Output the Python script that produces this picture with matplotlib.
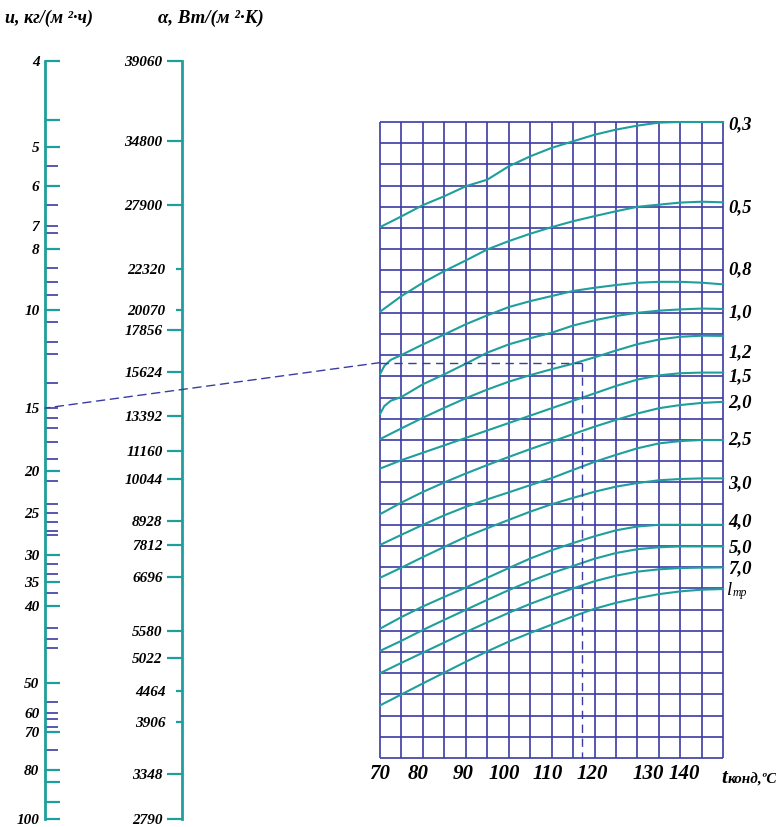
import numpy as np
import matplotlib
matplotlib.use("Agg")
import matplotlib.pyplot as plt
from matplotlib.patches import ConnectionPatch
from matplotlib.ticker import FixedLocator, FuncFormatter
from matplotlib import transforms

plt.rcParams['font.family'] = ['Liberation Serif', 'DejaVu Serif']

# шкала u, кг/(м2·ч) - неравномерная, позиция метки = доля длины шкалы сверху
u_labeled = [4, 5, 6, 7, 8, 10, 15, 20, 25, 30, 35, 40, 50, 60, 70, 80, 100]
u_labeled_pos = [0, .1132, .1645, .2171, .2474, .3289, .4579, .5408, .5961,
                 .6513, .6868, .7184, .8211, .8605, .8855, .9355, 1.0]
u_teal = [4, 4.66, 5, 6, 8, 10, 20, 30, 35, 40, 50, 70, 80, 84.5, 92.5, 100]
u_navy = [5.47, 6.46, 7, 7.29, 8.57, 9.04, 9.47, 10.5, 11.4, 12.0, 13.5, 15,
          15.7, 16.4, 17.5, 18.9, 21.1, 23.8, 25, 26.0, 27.1, 27.5, 31.6, 33.6,
          37.2, 42.7, 44.0, 45.2, 56.1, 60, 63.0, 67.2, 74.6]

# шкала alpha, Вт/(м2·К) - позиция = доля длины шкалы снизу
a_vals = [2790, 3348, 3906, 4464, 5022, 5580, 6696, 7812, 8928, 10044, 11160,
          13392, 15624, 17856, 20070, 22320, 27900, 34800, 39060]
a_pos = [0, .0592, .1276, .1684, .2118, .2474, .3197, .3618, .3934, .4487,
         .4855, .5316, .5895, .6447, .6711, .725, .8105, .8947, 1.0]
a_short = [3906, 4464, 20070, 22320]

# сетка: t конденсации (шаг 5) и 30 клеток по вертикали
t_grid = list(range(70, 151, 5))
row_grid = list(range(0, 31))
t_pts = list(range(70, 151, 5))
t_kink = [70, 71, 72.5] + list(range(75, 151, 5))

c03 = [25.04, 25.55, 26.08, 26.5, 26.97, 27.28, 27.91, 28.38, 28.78, 29.09,
       29.4, 29.64, 29.83, 29.97, 30.0, 30.0, 30.0]
c05 = [21.05, 21.79, 22.42, 22.97, 23.47, 23.99, 24.38, 24.73, 25.04, 25.32,
       25.56, 25.79, 26.0, 26.1, 26.2, 26.24, 26.21]
c08 = [18.1, 18.49, 18.78, 19.01, 19.51, 19.98, 20.46, 20.88, 21.27, 21.55,
       21.79, 22.03, 22.18, 22.31, 22.42, 22.46, 22.46, 22.42, 22.34]
c10 = [16.22, 16.6, 16.85, 17.03, 17.63, 18.1, 18.6, 19.12, 19.51, 19.8,
       20.06, 20.4, 20.65, 20.85, 21.0, 21.1, 21.16, 21.2, 21.18]
c12 = [15.04, 15.55, 16.05, 16.52, 16.97, 17.38, 17.75, 18.06, 18.34, 18.6,
       18.9, 19.22, 19.52, 19.74, 19.87, 19.92, 19.91]
c15 = [13.65, 14.05, 14.4, 14.75, 15.1, 15.45, 15.8, 16.15, 16.5, 16.85,
       17.2, 17.55, 17.85, 18.05, 18.15, 18.18, 18.18]
c20 = [11.5, 12.05, 12.55, 13.0, 13.42, 13.82, 14.2, 14.57, 14.92, 15.28,
       15.63, 15.95, 16.25, 16.5, 16.65, 16.75, 16.8]
c25 = [10.05, 10.53, 11.0, 11.45, 11.85, 12.2, 12.53, 12.87, 13.2, 13.59,
       13.97, 14.3, 14.61, 14.84, 14.95, 15.0, 15.0]
c30 = [8.5, 8.98, 9.48, 9.96, 10.43, 10.84, 11.23, 11.62, 11.97, 12.27,
       12.56, 12.8, 12.97, 13.1, 13.16, 13.19, 13.19]
c40 = [6.1, 6.65, 7.15, 7.6, 8.04, 8.5, 8.96, 9.41, 9.8, 10.14, 10.46,
       10.74, 10.92, 11.0, 11.0, 11.0, 11.0]
c50 = [5.05, 5.53, 6.04, 6.52, 6.99, 7.46, 7.92, 8.34, 8.72, 9.06, 9.4,
       9.67, 9.85, 9.94, 9.98, 9.98, 9.98]
c70 = [4.0, 4.49, 4.97, 5.45, 5.94, 6.4, 6.85, 7.27, 7.65, 8.0, 8.34, 8.6,
       8.79, 8.9, 8.96, 8.98, 8.99]
c_tr = [2.48, 3.0, 3.52, 4.03, 4.54, 5.03, 5.49, 5.9, 6.29, 6.68, 7.04,
        7.32, 7.54, 7.73, 7.86, 7.94, 7.97]

curve_labels = ['0,3', '0,5', '0,8', '1,0', '1,2', '1,5', '2,0', '2,5',
                '3,0', '4,0', '5,0', '7,0']
curve_label_rows = [29.86, 25.94, 23.02, 20.99, 19.1, 17.97, 16.75, 15.0,
                    12.92, 11.13, 9.91, 8.92]
tr_label_row = 7.92

x_labels = ['70', '80', '90', '100', '110', '120', '130', '140']
x_label_pos = [70, 79, 89.5, 99, 109, 119.5, 132.5, 141]

# пример: u = 15 -> t = 117
u_read = 15
t_read = 117.1
row_read = 18.65

teal = '#1f9e9e'
navy = '#3b3ba3'
bi = dict(family='Liberation Serif', weight='bold', style='italic')

W, H = 776, 827
fig = plt.figure(figsize=(W / 100, H / 100), dpi=100)


def box(x0, y_top, x1, y_bot):
    return [x0 / W, 1 - y_bot / H, (x1 - x0) / W, (y_bot - y_top) / H]


# ---- шкала u
ax_u = fig.add_axes(box(45, 61, 75, 819))
u_log = np.log10(u_labeled)


def u_fwd(v):
    return np.interp(np.log10(np.clip(v, 1e-9, None)), u_log, u_labeled_pos)


def u_inv(p):
    return 10 ** np.interp(p, u_labeled_pos, u_log)


ax_u.set_yscale('function', functions=(u_fwd, u_inv))
ax_u.set_ylim(100, 4)
ax_u.set_xlim(0, 1)
ax_u.patch.set_alpha(0)
for s in ['top', 'right', 'bottom']:
    ax_u.spines[s].set_visible(False)
ax_u.spines['left'].set_color(teal)
ax_u.spines['left'].set_linewidth(2)
ax_u.set_xticks([])


def u_fmt(v, pos):
    for L in u_labeled:
        if abs(v - L) < 1e-6:
            return str(L)
    return ''


ax_u.yaxis.set_major_locator(FixedLocator(u_teal))
ax_u.yaxis.set_minor_locator(FixedLocator(u_navy))
ax_u.yaxis.set_major_formatter(FuncFormatter(u_fmt))
ax_u.yaxis.set_minor_formatter(FuncFormatter(u_fmt))
ax_u.tick_params(axis='y', which='major', direction='in', length=11,
                 width=1.6, color=teal, pad=4, labelsize=11)
ax_u.tick_params(axis='y', which='minor', direction='in', length=9.5,
                 width=1.2, color=navy, pad=4, labelsize=11)
for lab in ax_u.get_yticklabels(which='both'):
    lab.set(**bi)

# ---- шкала alpha
ax_a = fig.add_axes(box(182, 61, 212, 819))
a_log = np.log10(a_vals)


def a_fwd(v):
    return np.interp(np.log10(np.clip(v, 1e-9, None)), a_log, a_pos)


def a_inv(p):
    return 10 ** np.interp(p, a_pos, a_log)


ax_a.set_yscale('function', functions=(a_fwd, a_inv))
ax_a.set_ylim(2790, 39060)
ax_a.set_xlim(0, 1)
ax_a.patch.set_alpha(0)
for s in ['top', 'right', 'bottom']:
    ax_a.spines[s].set_visible(False)
ax_a.spines['left'].set_color(teal)
ax_a.spines['left'].set_linewidth(2)
ax_a.set_xticks([])
ax_a.yaxis.set_major_locator(FixedLocator([v for v in a_vals if v not in a_short]))
ax_a.yaxis.set_minor_locator(FixedLocator(a_short))
ax_a.yaxis.set_major_formatter(FuncFormatter(lambda v, p: str(int(round(v)))))
ax_a.yaxis.set_minor_formatter(FuncFormatter(lambda v, p: str(int(round(v)))))
ax_a.tick_params(axis='y', which='major', direction='out', length=11,
                 width=1.6, color=teal, pad=3, labelsize=11)
ax_a.tick_params(axis='y', which='minor', direction='out', length=4,
                 width=1.6, color=teal, pad=8, labelsize=11)
for lab in ax_a.get_yticklabels(which='both'):
    lab.set(**bi)

# ---- сетка с кривыми
ax = fig.add_axes(box(380, 122, 723.3, 758))
ax.set_xlim(70, 150)
ax.set_ylim(0, 30)
for s in ax.spines.values():
    s.set_visible(False)
ax.set_yticks([])
ax.vlines(t_grid, 0, 30, color=navy, lw=1.2, clip_on=False)
ax.hlines(row_grid, 70, 150, color=navy, lw=1.2, clip_on=False)

for t, c in [(t_pts, c03), (t_pts, c05), (t_kink, c08), (t_kink, c10),
             (t_pts, c12), (t_pts, c15), (t_pts, c20), (t_pts, c25),
             (t_pts, c30), (t_pts, c40), (t_pts, c50), (t_pts, c70),
             (t_pts, c_tr)]:
    ax.plot(t, c, color=teal, lw=1.5, clip_on=False, solid_capstyle='round',
            solid_joinstyle='round')

for lab, r in zip(curve_labels, curve_label_rows):
    ax.text(151.2, r, lab, fontsize=13.5, ha='left', va='center', **bi)
ax.text(150.8, tr_label_row, 'l', fontsize=13.5, ha='left', va='center',
        family='Liberation Serif', style='italic')
ax.text(150.8, tr_label_row, 'тр',
        transform=transforms.offset_copy(ax.transData, fig=fig, x=6, y=-3, units='dots'),
        fontsize=8.5, ha='left', va='center', family='Liberation Serif', style='italic')

ax.set_xticks(x_label_pos)
ax.set_xticklabels(x_labels)
ax.tick_params(axis='x', length=0, pad=4, labelsize=15)
for lab in ax.get_xticklabels():
    lab.set(**bi)

tr_x = transforms.blended_transform_factory(ax.transData, ax.transAxes)
ax.text(149.6, -0.04, 't', transform=tr_x, fontsize=15, ha='left',
        va='baseline', **bi)
ax.text(149.6, -0.04, 'конд,ºC',
        transform=transforms.offset_copy(tr_x, fig=fig, x=6, y=0, units='dots'),
        fontsize=11, ha='left', va='baseline', **bi)

# пунктир ключа
dash = dict(color=navy, lw=1, linestyle=(0, (6, 4)))
ax.plot([70, t_read], [row_read, row_read], clip_on=False, **dash)
ax.plot([t_read, t_read], [row_read, 0], clip_on=False, **dash)
con = ConnectionPatch(xyA=(70, row_read), coordsA=ax.transData,
                      xyB=(0, u_read), coordsB=ax_u.transData, **dash)
fig.add_artist(con)

# заголовки шкал
fig.text(5 / W, 1 - 18 / H, 'u, кг/(м ²·ч)', fontsize=13, ha='left',
         va='center', **bi)
fig.text(158 / W, 1 - 18 / H, 'α, Вт/(м ²·К)', fontsize=13.5, ha='left',
         va='center', **bi)

fig.savefig('out.png', dpi=100, facecolor='white')
